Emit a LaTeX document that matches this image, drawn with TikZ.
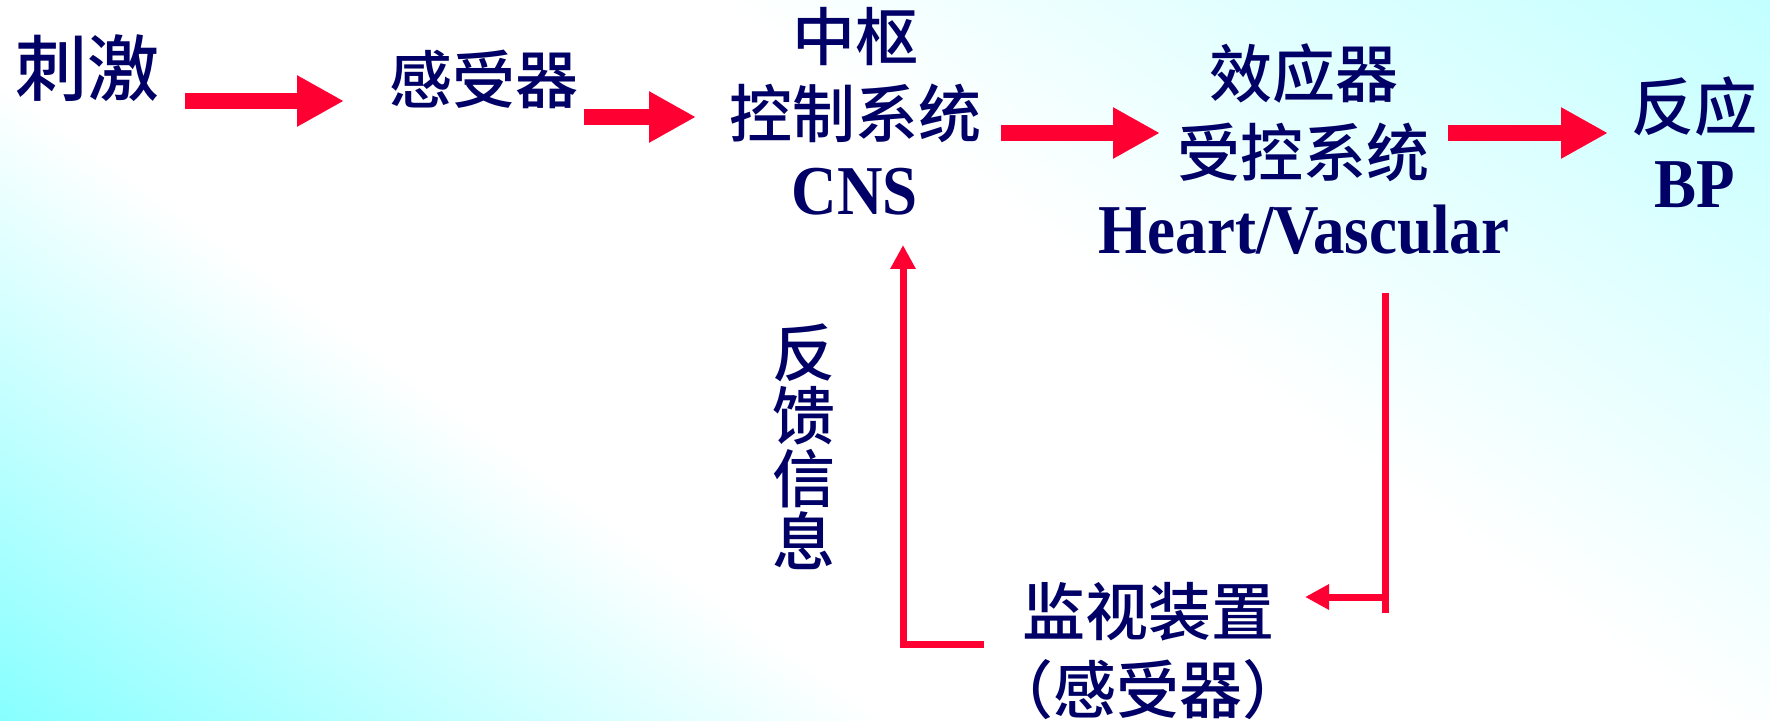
\documentclass[tikz,border=0pt]{standalone}
\usepackage{fontspec}
\usepackage{graphicx}
\usetikzlibrary{arrows.meta,calc}
\newfontfamily\cjk{Noto Sans CJK SC}[UprightFont=* Medium]
\newfontfamily\cjkh{Noto Sans CJK SC}[UprightFont=* Medium,RawFeature=+halt]
\newfontfamily\latb{Liberation Serif}[UprightFont=* Bold]
\definecolor{navy}{RGB}{0,0,102}
\definecolor{arrred}{RGB}{255,0,51}
\definecolor{cyanA}{RGB}{135,255,255}
\definecolor{cyanB}{RGB}{195,255,255}
\pgfdeclareverticalshading{bgshade}{100bp}{color(0bp)=(cyanA); color(25bp)=(cyanA); color(41bp)=(white); color(56bp)=(white); color(75bp)=(cyanB); color(100bp)=(cyanB)}
\begin{document}
\begin{tikzpicture}[x=0.5pt,y=-0.5pt,
  zh/.style={text=navy,inner sep=0pt,font=\cjk\fontsize{31.5}{32}\selectfont},
  zhbig/.style={text=navy,inner sep=0pt,font=\cjk\fontsize{36}{36}\selectfont},
  en/.style={text=navy,inner sep=0pt,font=\latb\fontsize{35}{36}\selectfont},
  big/.style={draw=arrred,line width=8pt,-{Triangle[length=23.5pt,width=24pt]}},
  thinline/.style={draw=arrred,line width=3.5pt},
  thinarr/.style={draw=arrred,line width=3.5pt,line join=miter,-{Triangle[length=12pt,width=12pt]}}]
\useasboundingbox (0,0) rectangle (1770,721);
\begin{scope}
\clip (0,0) rectangle (1770,721);
\begin{scope}[transform canvas={shift={(885,360.5)},rotate=-35.8}]
\shade[shading=bgshade] (-1200,810) rectangle (1200,-810);
\end{scope}
\end{scope}

\node[zhbig] (stim) at (87,68) {刺激};
\node[zh] (recep) at (484,79) {感受器};
\node[zh] (cns1) at (855,37) {中枢};
\node[zh] (cns2) at (855,113) {控制系统};
\node[en] (cns3) at (855,192) {\scalebox{0.9}[1]{CNS}};
\node[zh] (eff1) at (1304,74) {效应器};
\node[zh] (eff2) at (1303,152) {受控系统};
\node[en] (eff3) at (1304,230) {\scalebox{0.9}[1]{Heart/Vascular}};
\node[zh] (resp1) at (1694,107) {反应};
\node[en] (resp2) at (1695,185) {\scalebox{0.9}[1]{BP}};
\node[zh,align=center,font=\cjk\fontsize{31.5}{31.5}\selectfont] (fb) at (804,447) {反\\馈\\信\\息};
\node[zh] (mon1) at (1148,612) {监视装置};
\node[zh,font=\cjkh\fontsize{31.5}{32}\selectfont] (mon2) at (1148,690) {（感受器）};

\draw[big] ($(stim.center)+(98,33)$) -- ($(recep.center)+(-140,22)$);
\draw[big] ($(recep.center)+(100,38)$) -- ($(cns2.center)+(-159,4)$);
\draw[big] ($(cns2.center)+(146,20)$) -- ($(eff2.center)+(-143,-19)$);
\draw[big] ($(eff2.center)+(145,-19)$) -- ($(resp1.center)+(-86,26)$);

\draw[thinline] ($(eff3.center)+(81,63)$) coordinate (fr) -- ++(0,320);
\draw[thinarr] ($(fr)+(0,304)$) -- ($(mon1.center)+(157,-15)$);
\draw[thinarr] ($(mon1.center)+(-164,32)$) -| ($(cns3.center)+(48,53)$);
\end{tikzpicture}
\end{document}
